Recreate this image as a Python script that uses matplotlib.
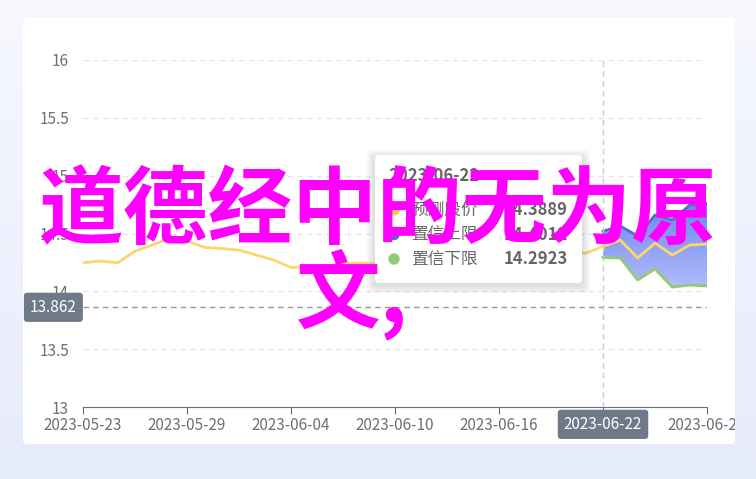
import numpy as np
import pandas as pd
import matplotlib
matplotlib.use("Agg")
import matplotlib.pyplot as plt
from matplotlib.patches import FancyBboxPatch, Rectangle
from matplotlib.path import Path
from matplotlib.patches import PathPatch
import matplotlib.transforms as mtransforms

plt.rcParams['font.family'] = ['Noto Sans CJK SC', 'DejaVu Sans']

# ---- data ----
dates = pd.date_range("2023-05-23", "2023-06-28", freq="D")
tick_labels = ["2023-05-23", "2023-05-29", "2023-06-04", "2023-06-10",
               "2023-06-16", "2023-06-22", "2023-06-28"]
pred = [14.247, 14.262, 14.247, 14.348, 14.40, 14.46, 14.435, 14.38, 14.37,
        14.357, 14.314, 14.27, 14.206, 14.214, 14.223, 14.24, 14.245, 14.236,
        14.21, 14.219, 14.227, 14.236, 14.245, 14.262, 14.28, 14.348, 14.38,
        14.357, 14.344, 14.33, 14.3889, 14.443, 14.288, 14.417, 14.314, 14.40,
        14.409]
band_start = 30  # 2023-06-22
upper = [14.52, 14.564, 14.478, 14.66, 14.616, 14.745, 14.76]
lower = [14.2923, 14.288, 14.098, 14.193, 14.037, 14.054, 14.046]
ref_value = 13.862
yticks = [13, 13.5, 14, 14.5, 15, 15.5, 16]
tip_date = "2023-06-22"
tip_names = ["预测股价", "置信上限", "置信下限"]
tip_values = ["14.3889", "14.4012", "14.2923"]
title_lines = ["道德经中的无为原", "文,"]

W, H = 756, 479
fig = plt.figure(figsize=(W / 100, H / 100), dpi=100)

# background gradient + white panel
bg = fig.add_axes([0, 0, 1, 1], zorder=0)
bg.set_xlim(0, W)
bg.set_ylim(H, 0)
bg.axis("off")
grad = np.linspace(0, 1, 200)[:, None] * np.ones((1, 10))
cmap_bg = matplotlib.colors.LinearSegmentedColormap.from_list("bg", ["#f7f8fe", "#e6ebfc"])
bg.imshow(grad, cmap=cmap_bg, extent=[0, W, H, 0], aspect="auto")
bg.add_patch(FancyBboxPatch((23, 17), 712, 427, boxstyle="round,pad=0,rounding_size=4",
                            facecolor="white", edgecolor="none"))
panel_clip = Rectangle((23, 17), 712, 427, transform=bg.transData, facecolor="none")

# main chart
x = np.arange(len(dates))
ax = fig.add_axes([83 / W, 1 - 407 / H, (707 - 83) / W, (407 - 60) / H], zorder=1)
ax.patch.set_alpha(0)
ax.set_xlim(0, len(dates) - 1)
ax.set_ylim(13, 16)
for s in ["top", "right", "left"]:
    ax.spines[s].set_visible(False)
ax.spines["bottom"].set_color("#6e7079")
ax.set_yticks(yticks)
ax.set_yticklabels(["13", "13.5", "14", "14.5", "15", "15.5", "16"])
tick_pos = [list(dates.strftime("%Y-%m-%d")).index(t) for t in tick_labels]
ax.set_xticks(tick_pos)
ax.set_xticklabels(tick_labels)
ax.tick_params(axis="y", length=0, pad=10, labelsize=11, labelcolor="#6e7079")
ax.tick_params(axis="x", length=5, color="#6e7079", pad=2, labelsize=11, labelcolor="#6e7079")
for lab in ax.get_xticklabels():
    lab.set_clip_on(True)
    lab.set_clip_path(panel_clip)
for yv in yticks[1:]:
    ax.axhline(yv, color="#e0e6f1", lw=1, ls=(0, (4, 3)), zorder=1)

# confidence band with vertical gradient
xb = x[band_start:]
verts = list(zip(xb, upper)) + list(zip(xb[::-1], lower[::-1]))
poly = PathPatch(Path(verts + [verts[0]], closed=True), facecolor="none", edgecolor="none")
ax.add_patch(poly)
cmap_band = matplotlib.colors.LinearSegmentedColormap.from_list("band", ["#aebbfb", "#6f86ea"])
img = ax.imshow(np.linspace(0, 1, 100)[:, None], cmap=cmap_band, aspect="auto", origin="lower",
                extent=[xb[0], xb[-1], min(lower), max(upper)], zorder=2)
img.set_clip_path(poly)
ax.plot(xb, upper, color="#5470c6", lw=2, zorder=3)
ax.plot(xb, lower, color="#91cc75", lw=2, zorder=3)
ax.plot(x, pred, color="#fbd56e", lw=2, zorder=4)

# reference lines with their labels
ax.axhline(ref_value, color="#9a9a9a", lw=1, ls=(0, (4, 3)), zorder=3)
ax.axvline(band_start, color="#c9ccd4", lw=1, ls=(0, (4, 3)), zorder=3)
tr_y = mtransforms.blended_transform_factory(ax.transAxes, ax.transData)
ax.text(-0.01, ref_value, f"{ref_value}", transform=tr_y, ha="right", va="center",
        color="white", fontsize=11, zorder=6, clip_on=False,
        bbox=dict(boxstyle="round,pad=0.4,rounding_size=0.2", fc="#6e7a88", ec="none"))
tr_x = mtransforms.blended_transform_factory(ax.transData, ax.transAxes)
ax.text(band_start, -0.05, tip_date, transform=tr_x, ha="center", va="center",
        color="white", fontsize=11, zorder=6, clip_on=False,
        bbox=dict(boxstyle="round,pad=0.4,rounding_size=0.2", fc="#6e7a88", ec="none"))

# overlay: tooltip and big text
top = fig.add_axes([0, 0, 1, 1], zorder=2)
top.set_xlim(0, W)
top.set_ylim(H, 0)
top.axis("off")
top.patch.set_alpha(0)
for i in range(4):
    d = 2 + i * 2
    top.add_patch(FancyBboxPatch((375 - d, 156 - d + 2), 207 + 2 * d, 127 + 2 * d,
                                 boxstyle="round,pad=0,rounding_size=6",
                                 facecolor="black", edgecolor="none", alpha=0.03))
top.add_patch(FancyBboxPatch((375, 155), 207, 128, boxstyle="round,pad=0,rounding_size=4",
                             facecolor="white", edgecolor="none"))
top.text(388, 176, tip_date, fontsize=12, fontweight="bold", color="#666666", va="center")
tip_colors = ["#fac858", "#5470c6", "#91cc75"]
for i, (n, v, c) in enumerate(zip(tip_names, tip_values, tip_colors)):
    yy = 210 + i * 24.5
    top.add_patch(plt.Circle((394, yy), 5, color=c))
    top.text(411, yy, n, fontsize=12, color="#666666", va="center")
    top.text(568, yy, v, fontsize=12, fontweight="bold", color="#666666", va="center", ha="right")

top.text(378, 212, title_lines[0], fontsize=61, fontweight="bold", color="#ff00ff",
         ha="center", va="center")
top.text(352, 294, title_lines[1], fontsize=61, fontweight="bold", color="#ff00ff",
         ha="center", va="center")

fig.savefig("out.png", dpi=100)
